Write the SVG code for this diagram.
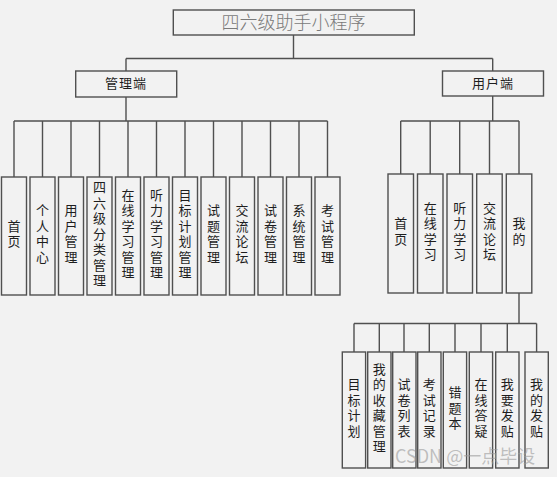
<svg xmlns="http://www.w3.org/2000/svg" width="557" height="477" viewBox="0 0 557 477">
<style>
.bx{fill:#f2f2f2;stroke:#505050;stroke-width:1.4}
.ln{fill:none;stroke:#505050;stroke-width:1.4}
.t{font-family:"Noto Sans CJK SC","Noto Sans",sans-serif;font-size:13px;fill:#1e1e1e;text-anchor:middle}
.v{font-family:"Noto Sans CJK SC","Noto Sans",sans-serif;font-size:13px;fill:#1e1e1e;text-anchor:middle;writing-mode:vertical-rl;letter-spacing:2.5px}
.title{font-family:"Noto Sans CJK SC",sans-serif;font-size:18px;font-weight:300;fill:#7a7a7a;text-anchor:middle}
.wm{font-family:"Noto Sans CJK SC","Liberation Sans",sans-serif;font-size:18px;fill:#9a9a9a;fill-opacity:0.6}
</style>
<rect width="557" height="477" fill="#f2f2f2"/>
<g id="connectors">
<path class="ln" d="M293.5 35V58.5M126 58.5H492.7M126 58.5V71M492.7 58.5V71"/>
<path class="ln" d="M126 97V121M14 121H327.5M14 121V177M42.5 121V177M71 121V177M99.5 121V177M128 121V177M156.5 121V177M185 121V177M213.5 121V177M242 121V177M270.5 121V177M299 121V177M327.5 121V177"/>
<path class="ln" d="M492.7 96V121M400.7 121H519M400.7 121V174M430.2 121V174M459.7 121V174M489.5 121V174M519 121V174"/>
<path class="ln" d="M519 293V323.5M354 323.5H536.6M354 323.5V352M379.3 323.5V352M404 323.5V352M429.3 323.5V352M455 323.5V352M481 323.5V352M507.3 323.5V352M536.6 323.5V352"/>
</g>
<g id="root"><rect class="bx" x="173.3" y="10" width="241" height="25"/><text class="title" x="293.5" y="29">四六级助手小程序</text></g>
<g id="admin"><rect class="bx" x="75.7" y="71" width="101" height="26"/><text class="t" x="126" y="88" letter-spacing="1">管理端</text></g>
<g id="user"><rect class="bx" x="442.5" y="71" width="101" height="25"/><text class="t" x="493" y="88" letter-spacing="1">用户端</text></g>

<g id="a1"><rect class="bx" x="1.5" y="177" width="25" height="118"/><text class="v" x="14" y="235">首页</text></g>
<g id="a2"><rect class="bx" x="30" y="177" width="25" height="118"/><text class="v" x="42.5" y="235">个人中心</text></g>
<g id="a3"><rect class="bx" x="58.5" y="177" width="25" height="118"/><text class="v" x="71" y="235">用户管理</text></g>
<g id="a4"><rect class="bx" x="87" y="177" width="25" height="118"/><text class="v" x="99.5" y="235">四六级分类管理</text></g>
<g id="a5"><rect class="bx" x="115.5" y="177" width="25" height="118"/><text class="v" x="128" y="235">在线学习管理</text></g>
<g id="a6"><rect class="bx" x="144" y="177" width="25" height="118"/><text class="v" x="156.5" y="235">听力学习管理</text></g>
<g id="a7"><rect class="bx" x="172.5" y="177" width="25" height="118"/><text class="v" x="185" y="235">目标计划管理</text></g>
<g id="a8"><rect class="bx" x="201" y="177" width="25" height="118"/><text class="v" x="213.5" y="235">试题管理</text></g>
<g id="a9"><rect class="bx" x="229.5" y="177" width="25" height="118"/><text class="v" x="242" y="235">交流论坛</text></g>
<g id="a10"><rect class="bx" x="258" y="177" width="25" height="118"/><text class="v" x="270.5" y="235">试卷管理</text></g>
<g id="a11"><rect class="bx" x="286.5" y="177" width="25" height="118"/><text class="v" x="299" y="235">系统管理</text></g>
<g id="a12"><rect class="bx" x="315" y="177" width="25" height="118"/><text class="v" x="327.5" y="235">考试管理</text></g>

<g id="u1"><rect class="bx" x="388" y="174" width="25.5" height="119"/><text class="v" x="400.7" y="232.5">首页</text></g>
<g id="u2"><rect class="bx" x="417.5" y="174" width="25.5" height="119"/><text class="v" x="430.2" y="232.5">在线学习</text></g>
<g id="u3"><rect class="bx" x="447" y="174" width="25.5" height="119"/><text class="v" x="459.7" y="232.5">听力学习</text></g>
<g id="u4"><rect class="bx" x="476.7" y="174" width="25.5" height="119"/><text class="v" x="489.5" y="232.5">交流论坛</text></g>
<g id="u5"><rect class="bx" x="506.3" y="174" width="25.5" height="119"/><text class="v" x="519" y="232.5">我的</text></g>

<g id="m1"><rect class="bx" x="342.3" y="352" width="23.3" height="116"/><text class="v" x="354" y="409">目标计划</text></g>
<g id="m2"><rect class="bx" x="367.7" y="352" width="23.3" height="116"/><text class="v" x="379.3" y="409">我的收藏管理</text></g>
<g id="m3"><rect class="bx" x="392.7" y="352" width="23.3" height="116"/><text class="v" x="404" y="409">试卷列表</text></g>
<g id="m4"><rect class="bx" x="417.7" y="352" width="23.3" height="116"/><text class="v" x="429.3" y="409">考试记录</text></g>
<g id="m5"><rect class="bx" x="443.3" y="352" width="23.3" height="116"/><text class="v" x="455" y="409">错题本</text></g>
<g id="m6"><rect class="bx" x="469.3" y="352" width="23.3" height="116"/><text class="v" x="481" y="409">在线答疑</text></g>
<g id="m7"><rect class="bx" x="495.7" y="352" width="23.3" height="116"/><text class="v" x="507.3" y="409">我要发贴</text></g>
<g id="m8"><rect class="bx" x="525" y="352" width="23.3" height="116"/><text class="v" x="536.6" y="409">我的发贴</text></g>

<text class="wm" x="395" y="463">CSDN @一点毕设</text>
</svg>
